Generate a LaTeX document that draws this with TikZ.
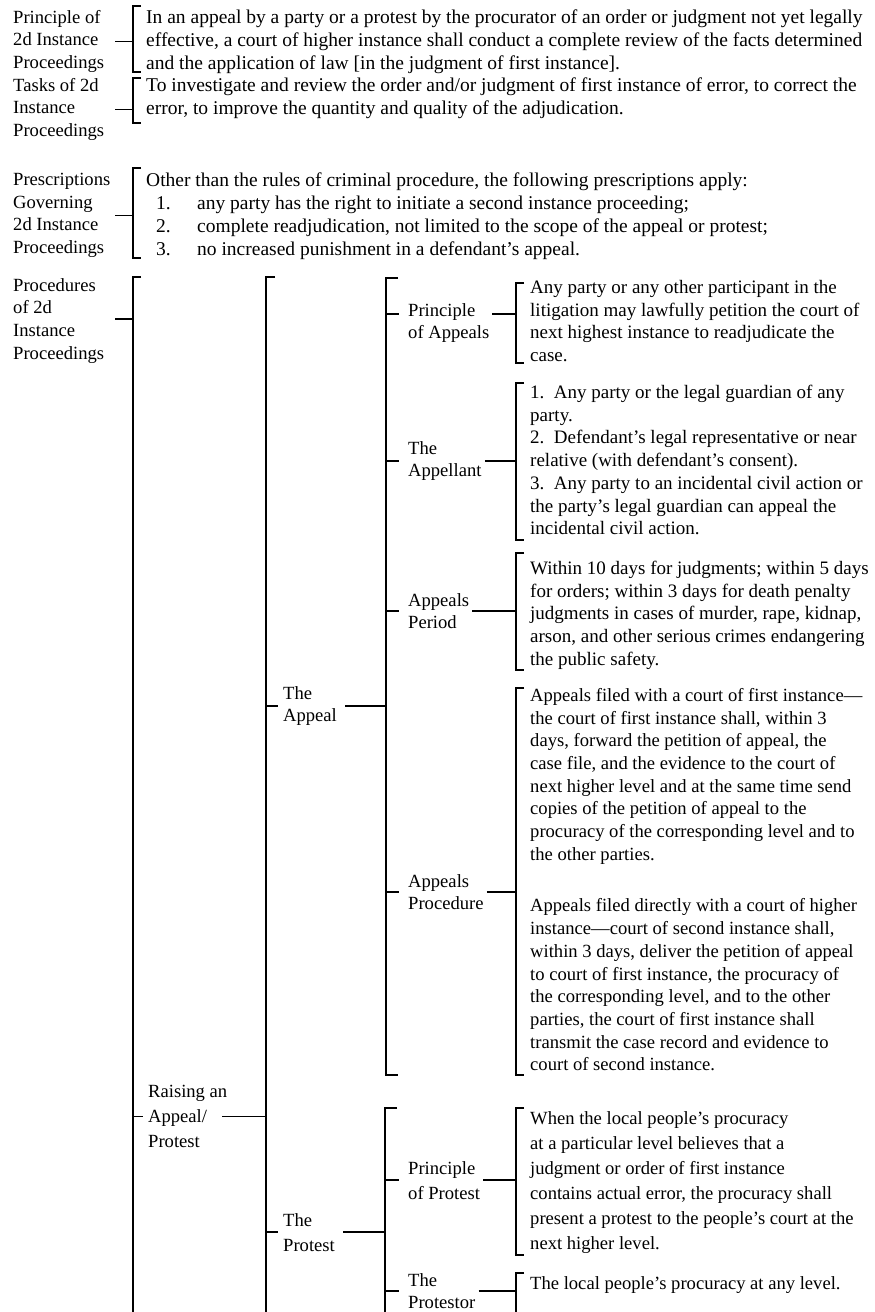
\documentclass[tikz,border=0pt]{standalone}
\usepackage{fontspec}
\setmainfont{Liberation Serif}
\newcommand{\itm}[2]{\hspace*{10pt}\makebox[41pt][l]{#1}#2}
\begin{document}
\begin{tikzpicture}[x=1pt,y=-1pt,
  txt/.style={anchor=north west,inner sep=0pt,align=left,font=\fontsize{18.6}{22.7}\selectfont},
  wide/.style={txt,font=\fontsize{19.5}{22.7}\selectfont},
  rtxt/.style={txt,font=\fontsize{19}{22.7}\selectfont},
  loose/.style={txt,font=\fontsize{18.6}{25}\selectfont},
  brk/.style={line width=1.8pt},
  tick/.style={line width=1.8pt}]
\useasboundingbox (0,0) rectangle (875,1312);
% spines of the brackets
\coordinate (sp1) at (133,0);
\coordinate (sp2) at (266,0);
\coordinate (sp3) at (386,0);
\coordinate (sp4) at (516,0);

% first column
\node[txt] (l1) at (13,10) {Principle of\\2d Instance\\Proceedings};
\node[txt] (l2) at (13,78) {Tasks of 2d\\Instance\\Proceedings};
\node[txt] (l3) at (13,173) {Prescriptions\\Governing\\2d Instance\\Proceedings};
\node[txt] (l4) at (13,278) {Procedures\\of 2d\\Instance\\Proceedings};

\node[wide] (t1) at (146,10) {In an appeal by a party or a protest by the procurator of an order or judgment not yet legally\\effective, a court of higher instance shall conduct a complete review of the facts determined\\and the application of law [in the judgment of first instance].};
\node[wide] (t2) at (146,78) {To investigate and review the order and/or judgment of first instance of error, to correct the\\error, to improve the quantity and quality of the adjudication.};
\node[wide] (t3) at (146,173) {Other than the rules of criminal procedure, the following prescriptions apply:\\
  \itm{1.}{any party has the right to initiate a second instance proceeding;}\\
  \itm{2.}{complete readjudication, not limited to the scope of the appeal or protest;}\\
  \itm{3.}{no increased punishment in a defendant's appeal.}};

\draw[brk] (141,6) -| (133,72) -- ++(8,0);
\draw[brk] (141,78) -| (133,123) -- ++(8,0);
\draw[brk] (141,168) -| (133,258) -- ++(8,0);
\draw[tick] ([xshift=-18pt]l1.east -| sp1) -- (l1.east -| sp1);
\draw[tick] ([xshift=-18pt]l2.east -| sp1) -- (l2.east -| sp1);
\draw[tick] ([xshift=-18pt]l3.east -| sp1) -- (l3.east -| sp1);

% procedures tree
\draw[brk] (141,277) -| (133,1312);
\draw[tick] ([xshift=-18pt,yshift=2pt]l4.east -| sp1) -- ([yshift=2pt]l4.east -| sp1);
\node[loose] (ra) at (148,1085) {Raising an\\Appeal/\\Protest};
\draw[tick] (ra.west -| sp1) -- ([xshift=-5pt]ra.west);
\draw[tick] ([xshift=-5pt]ra.east) -- (ra.east -| sp2);

\draw[brk] (275,277) -| (266,1312);
\node[txt] (app) at (283,686) {The\\Appeal};
\node[loose] (pro) at (283,1213) {The\\Protest};
\draw[tick] (app.west -| sp2) -- ([xshift=-5pt]app.west);
\draw[tick] ([xshift=8pt]app.east) -- (app.east -| sp3);
\draw[tick] (pro.west -| sp2) -- ([xshift=-5pt]pro.west);
\draw[tick] ([xshift=8pt]pro.east) -- (pro.east -| sp3);

% the appeal
\draw[brk] (398,278) -| (386,1075) -- ++(12,0);
\node[txt] (lpa) at (408,303) {Principle\\of Appeals};
\node[txt] (lap) at (408,441) {The\\Appellant};
\node[txt] (lpe) at (408,593) {Appeals\\Period};
\node[txt] (lpr) at (408,874) {Appeals\\Procedure};
\draw[tick] ([yshift=9pt]lpa.west -| sp3) -- ([xshift=-9pt,yshift=9pt]lpa.west);
\draw[tick] ([xshift=3pt,yshift=9pt]lpa.east) -- ([yshift=9pt]lpa.east -| sp4);
\foreach \n in {lap,lpe,lpr}{
  \draw[tick] (\n.west -| sp3) -- ([xshift=-9pt]\n.west);
  \draw[tick] ([xshift=3pt]\n.east) -- (\n.east -| sp4);
}

\node[rtxt] (pa) at (530,280) {Any party or any other participant in the\\litigation may lawfully petition the court of\\next highest instance to readjudicate the\\case.};
\node[rtxt] (ap) at (530,385) {1.\enspace Any party or the legal guardian of any\\party.\\2.\enspace Defendant's legal representative or near\\relative (with defendant's consent).\\3.\enspace Any party to an incidental civil action or\\the party's legal guardian can appeal the\\incidental civil action.};
\node[rtxt] (pe) at (530,561) {Within 10 days for judgments; within 5 days\\for orders; within 3 days for death penalty\\judgments in cases of murder, rape, kidnap,\\arson, and other serious crimes endangering\\the public safety.};
\node[txt] (pr) at (530,688) {Appeals filed with a court of first instance---\\the court of first instance shall, within 3\\days, forward the petition of appeal, the\\case file, and the evidence to the court of\\next higher level and at the same time send\\copies of the petition of appeal to the\\procuracy of the corresponding level and to\\the other parties.\\[29pt]Appeals filed directly with a court of higher\\instance---court of second instance shall,\\within 3 days, deliver the petition of appeal\\to court of first instance, the procuracy of\\the corresponding level, and to the other\\parties, the court of first instance shall\\transmit the case record and evidence to\\court of second instance.};
\draw[brk] (524,283) -| (516,363) -- ++(8,0);
\draw[brk] (524,383) -| (516,540) -- ++(8,0);
\draw[brk] (524,553) -| (516,670) -- ++(8,0);
\draw[brk] (524,688) -| (516,1075) -- ++(8,0);

% the protest
\draw[brk] (397,1108) -| (385,1312);
\node[loose] (lpp) at (408,1161) {Principle\\of Protest};
\node[txt] (lpt) at (408,1273) {The\\Protestor};
\foreach \n in {lpp,lpt}{
  \draw[tick] (\n.west -| sp3) -- ([xshift=-9pt]\n.west);
  \draw[tick] ([xshift=3pt]\n.east) -- (\n.east -| sp4);
}
\node[loose] (pp) at (530,1111) {When the local people's procuracy\\at a particular level believes that a\\judgment or order of first instance\\contains actual error, the procuracy shall\\present a protest to the people's court at the\\next higher level.};
\node[txt] (pt) at (530,1276) {The local people's procuracy at any level.};
\draw[brk] (524,1108) -| (516,1255) -- ++(8,0);
\draw[brk] (524,1273) -| (516,1312);
\end{tikzpicture}
\end{document}
